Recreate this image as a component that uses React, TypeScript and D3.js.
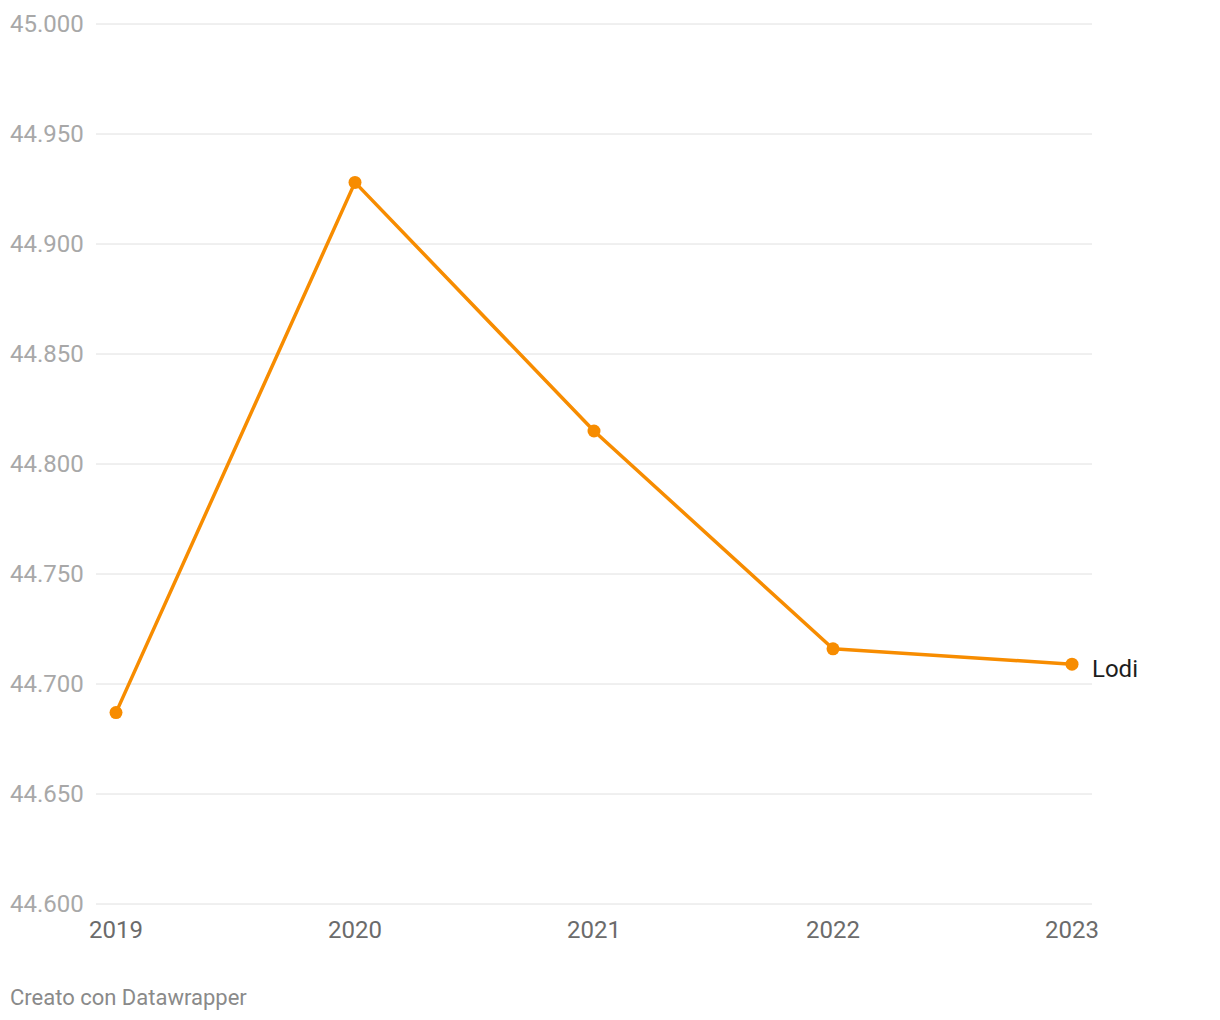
import React from "react";
import * as d3 from "d3";

const years = ["2019", "2020", "2021", "2022", "2023"];
const values = [44.687, 44.928, 44.815, 44.716, 44.709];
const yTicks = [44.6, 44.65, 44.7, 44.75, 44.8, 44.85, 44.9, 44.95, 45.0];
const seriesName = "Lodi";

export default function App() {
  const W = 1220, H = 1020;
  const x = d3.scalePoint<string>().domain(years).range([116, 1072]);
  const y = d3.scaleLinear().domain([44.6, 45.0]).range([904, 24]);
  const fmt = (v: number) => d3.format(".3f")(v);
  const line = d3.line<number>().x((_, i) => x(years[i])!).y((d) => y(d));
  const font = "Roboto, 'Noto Sans', sans-serif";
  return (
    <svg width={W} height={H} style={{ position: "absolute", left: 0, top: 0, fontFamily: font }}>
      <rect width={W} height={H} fill="#fff" />
      {yTicks.map((t) => (
        <g key={t}>
          <line x1={96} x2={1092} y1={y(t)} y2={y(t)} stroke="#e0e0e0" strokeWidth={1} />
          <text x={10} y={y(t)} dy="0.35em" fontSize={24} fill="#a8a8a8">{fmt(t)}</text>
        </g>
      ))}
      {years.map((yr) => (
        <text key={yr} x={x(yr)} y={930} dy="0.35em" textAnchor="middle" fontSize={24} fill="#6b6b6b">{yr}</text>
      ))}
      <path d={line(values) ?? ""} fill="none" stroke="#f78c00" strokeWidth={3.5} strokeLinejoin="round" />
      {values.map((v, i) => (
        <circle key={i} cx={x(years[i])} cy={y(v)} r={6.5} fill="#f78c00" />
      ))}
      <text x={1092} y={y(values[values.length - 1]) + 4} dy="0.35em" fontSize={24} fill="#1d1d1d">{seriesName}</text>
      <text x={10} y={997} dy="0.35em" fontSize={22} fill="#8a8a8a">Creato con Datawrapper</text>
    </svg>
  );
}
